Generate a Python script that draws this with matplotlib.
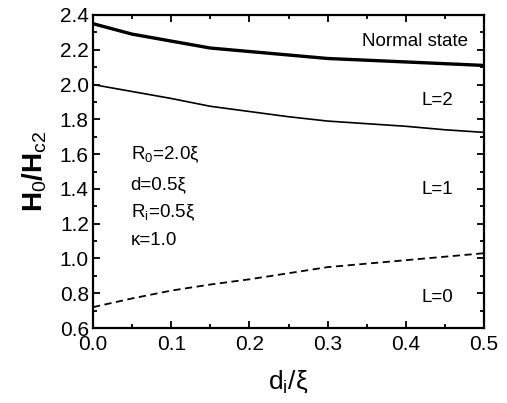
import matplotlib
matplotlib.use("Agg")
import matplotlib.pyplot as plt
from matplotlib.ticker import MultipleLocator

plt.rcParams['font.family'] = ['Liberation Sans', 'DejaVu Sans']
plt.rcParams['mathtext.fontset'] = 'custom'
plt.rcParams['mathtext.rm'] = 'Liberation Sans'
plt.rcParams['mathtext.it'] = 'Liberation Sans'

di = [0.0, 0.05, 0.1, 0.15, 0.2, 0.25, 0.3, 0.35, 0.4, 0.45, 0.5]
normal = [2.35, 2.29, 2.25, 2.21, 2.19, 2.17, 2.15, 2.14, 2.13, 2.12, 2.11]
l1_l2 = [2.0, 1.96, 1.92, 1.875, 1.845, 1.815, 1.79, 1.775, 1.76, 1.74, 1.725]
l0_l1 = [0.72, 0.77, 0.815, 0.85, 0.88, 0.915, 0.95, 0.97, 0.99, 1.01, 1.03]

fig = plt.figure(figsize=(5.07, 4.03), dpi=100)
ax = fig.add_axes([93 / 507, 1 - 328 / 403, (484 - 93) / 507, (328 - 15) / 403])

ax.plot(di, normal, color='black', lw=2.4)
ax.plot(di, l1_l2, color='black', lw=1.2)
ax.plot(di, l0_l1, color='black', lw=1.3, ls=(0, (4, 2.5)))

ax.set_xlim(0, 0.5)
ax.set_ylim(0.6, 2.4)
ax.xaxis.set_major_locator(MultipleLocator(0.1))
ax.xaxis.set_minor_locator(MultipleLocator(0.05))
ax.yaxis.set_major_locator(MultipleLocator(0.2))
ax.yaxis.set_minor_locator(MultipleLocator(0.1))
ax.tick_params(which='both', direction='in', top=True, right=True, width=1.3)
ax.tick_params(which='major', length=5, labelsize=15, pad=3)
ax.tick_params(which='minor', length=3)
ax.tick_params(axis='x', pad=5)
for s in ax.spines.values():
    s.set_linewidth(1.6)

ax.set_xlabel(r'd$_\mathrm{i}$/ξ', fontsize=19, labelpad=10)
ax.set_ylabel(r'H$_\mathrm{0}$/H$_\mathrm{c2}$', fontsize=20, fontweight='bold', labelpad=8)

fs = 13.5
ax.text(0.48, 2.25, 'Normal state', fontsize=fs, ha='right', va='center')
ax.text(0.44, 1.91, 'L=2', fontsize=fs, ha='center', va='center')
ax.text(0.44, 1.394, 'L=1', fontsize=fs, ha='center', va='center')
ax.text(0.44, 0.778, 'L=0', fontsize=fs, ha='center', va='center')
ax.text(0.048, 1.595, r'R$_\mathrm{0}$=2.0ξ', fontsize=fs, ha='left', va='center')
ax.text(0.048, 1.422, 'd=0.5ξ', fontsize=fs, ha='left', va='center')
ax.text(0.048, 1.26, r'R$_\mathrm{i}$=0.5ξ', fontsize=fs, ha='left', va='center')
ax.text(0.048, 1.106, 'κ=1.0', fontsize=fs, ha='left', va='center')

fig.savefig('out.png', dpi=100)
